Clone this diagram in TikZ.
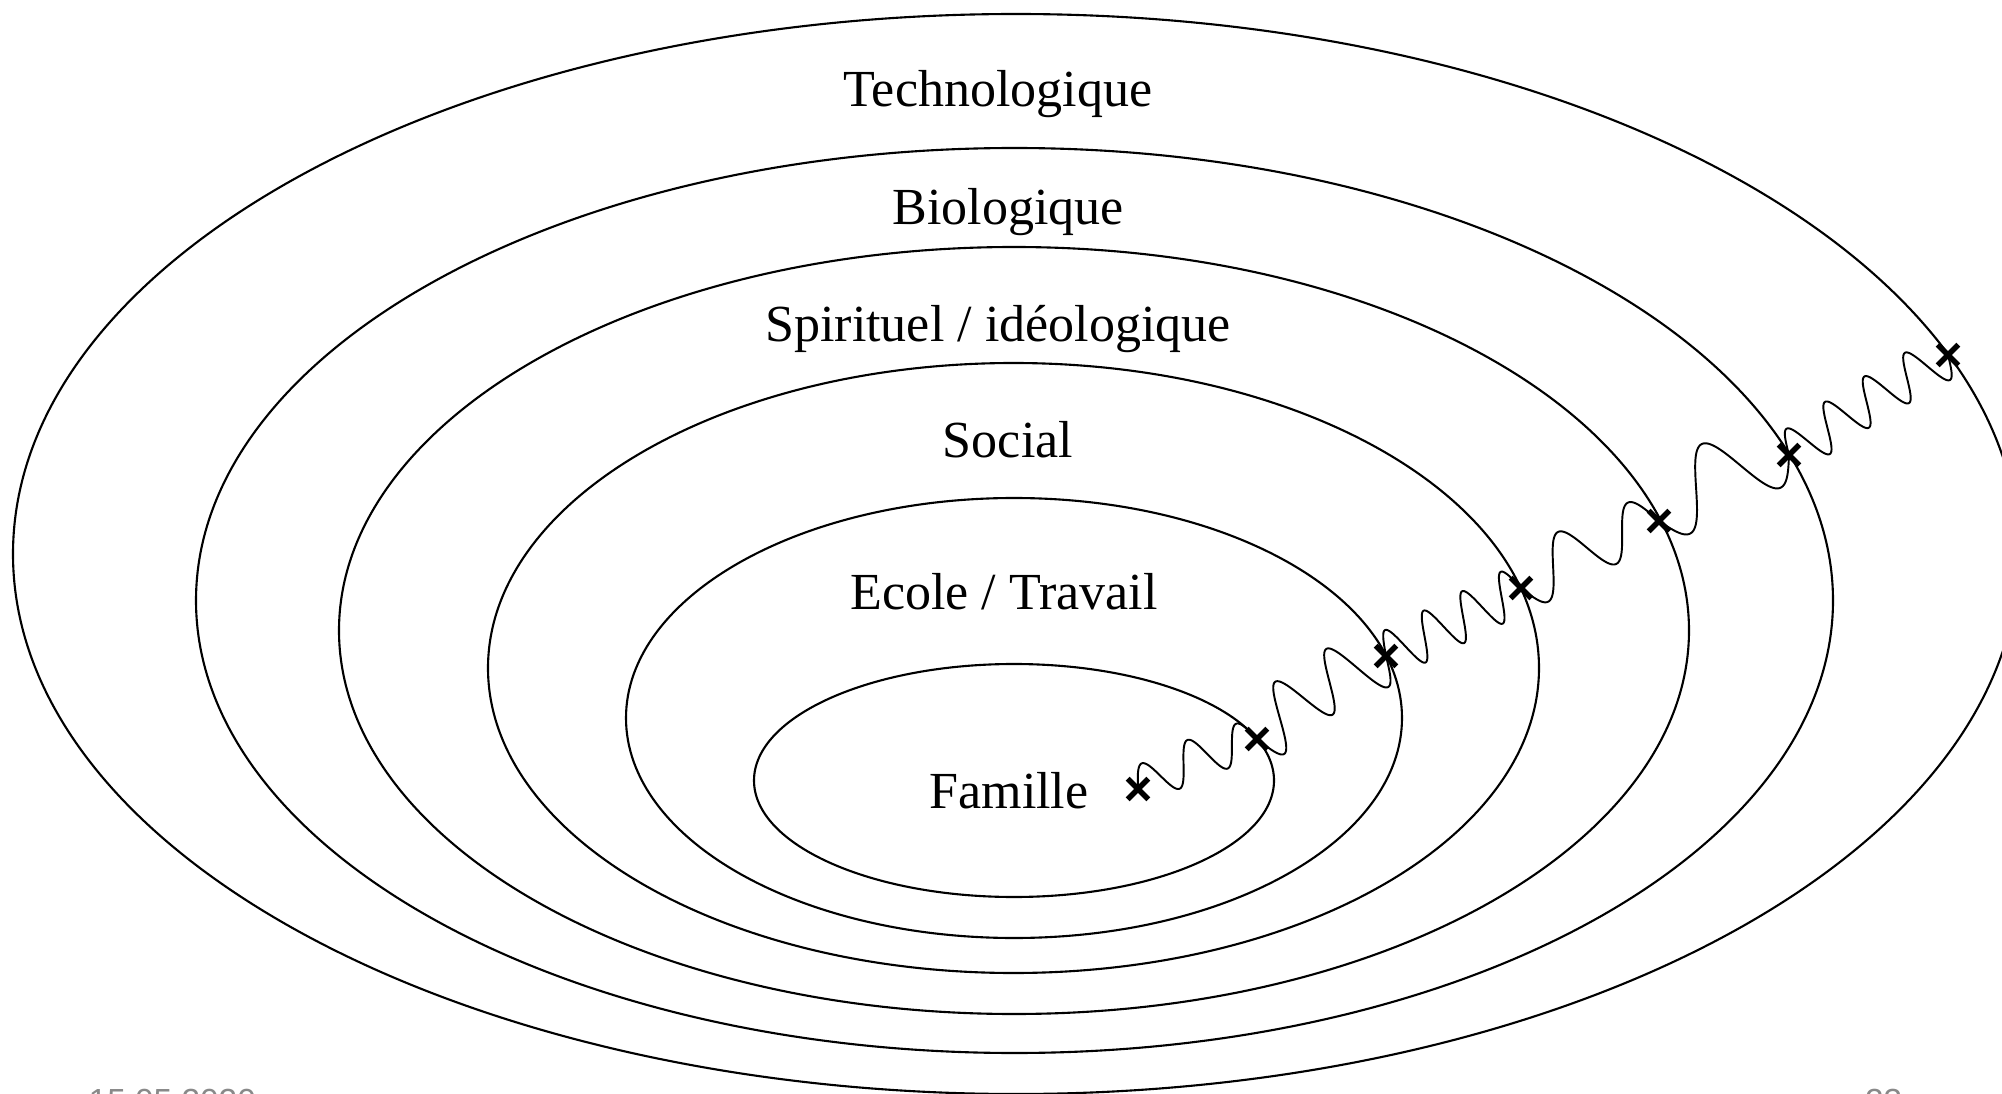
\documentclass[tikz,border=0pt]{standalone}
\usepackage{fontspec}
\setmainfont{Liberation Serif}
\setsansfont{Liberation Sans}
\usetikzlibrary{shapes.misc,calc}
\definecolor{footgray}{RGB}{137,137,137}
\tikzset{
  ring/.style={draw=black, line width=0.6pt},
  ringlabel/.style={anchor=base, inner sep=0pt, font=\fontsize{14.8}{17}\selectfont},
  xmark/.style={draw=black, cross out, line width=1.6pt, minimum size=0.15cm, inner sep=0pt},
  wavepath/.style={draw=black, line width=0.55pt, line join=round},
  footer/.style={font=\sffamily\fontsize{9.5}{11}\selectfont, text=footgray, inner sep=0pt}
}
% Sine wave running from one mark to the next.
% #1,#2: marks; #3: amplitude (pt); #4,#5: start/end phase (deg); #6: bulge (pt)
\newcommand{\wavelink}[6]{%
  \draw[wavepath] let \p1=(#1.center), \p2=(#2.center),
    \n1={veclen(\x2-\x1,\y2-\y1)} in
    plot[domain=0:1, samples=260, variable=\t]
    ({\x1+\t*(\x2-\x1)-(#3*sin(#4+\t*(#5-#4))+#6*sin(180*\t))*(\y2-\y1)/\n1},
     {\y1+\t*(\y2-\y1)+(#3*sin(#4+\t*(#5-#4))+#6*sin(180*\t))*(\x2-\x1)/\n1});}

\begin{document}
\begin{tikzpicture}[x=0.01cm, y=-0.01cm]
\useasboundingbox (0,0) rectangle (2002,1094);

% nested spheres
\draw[ring] (1016,554)    ellipse [x radius=1003,  y radius=540];
\draw[ring] (1014.5,600.5) ellipse [x radius=818.5, y radius=452.5];
\draw[ring] (1014,630.5)  ellipse [x radius=675,   y radius=383.5];
\draw[ring] (1013.5,668)  ellipse [x radius=525.5, y radius=305];
\draw[ring] (1014,718)    ellipse [x radius=388,   y radius=220];
\draw[ring] (1014,780.5)  ellipse [x radius=260,   y radius=116.5];

% sphere names
\node[ringlabel] (techno) at (998,107)  {Technologique};
\node[ringlabel] (bio)    at (1008,225) {Biologique};
\node[ringlabel] (spirit) at (998,342)  {Spirituel / idéologique};
\node[ringlabel] (social) at (1008,457) {Social};
\node[ringlabel] (ecole)  at (1004,610) {Ecole / Travail};
\node[ringlabel] (fam)    at (1009,808) {Famille};

% crossing points
\node[xmark] (c0) at (1138,789) {};
\node[xmark] (c1) at (1257,739) {};
\node[xmark] (c2) at (1386,656) {};
\node[xmark] (c3) at (1521,588) {};
\node[xmark] (c4) at (1659,521) {};
\node[xmark] (c5) at (1789,455) {};
\node[xmark] (c6) at (1948,355) {};

% wavy trajectory
\wavelink{c0}{c1}{5.8}{0}{900}{1.6}
\wavelink{c1}{c2}{8.6}{180}{1080}{2.8}
\wavelink{c2}{c3}{6.7}{0}{1260}{0}
\wavelink{c3}{c4}{7.7}{180}{900}{2.2}
\wavelink{c4}{c5}{9.4}{180}{720}{4.6}
\wavelink{c5}{c6}{6.5}{0}{1440}{1.0}

% footer
\node[footer, anchor=base west] (date) at (88,1112) {15.05.2020};
\node[footer, anchor=base east] (page) at (1903,1112) {23};
\end{tikzpicture}
\end{document}
